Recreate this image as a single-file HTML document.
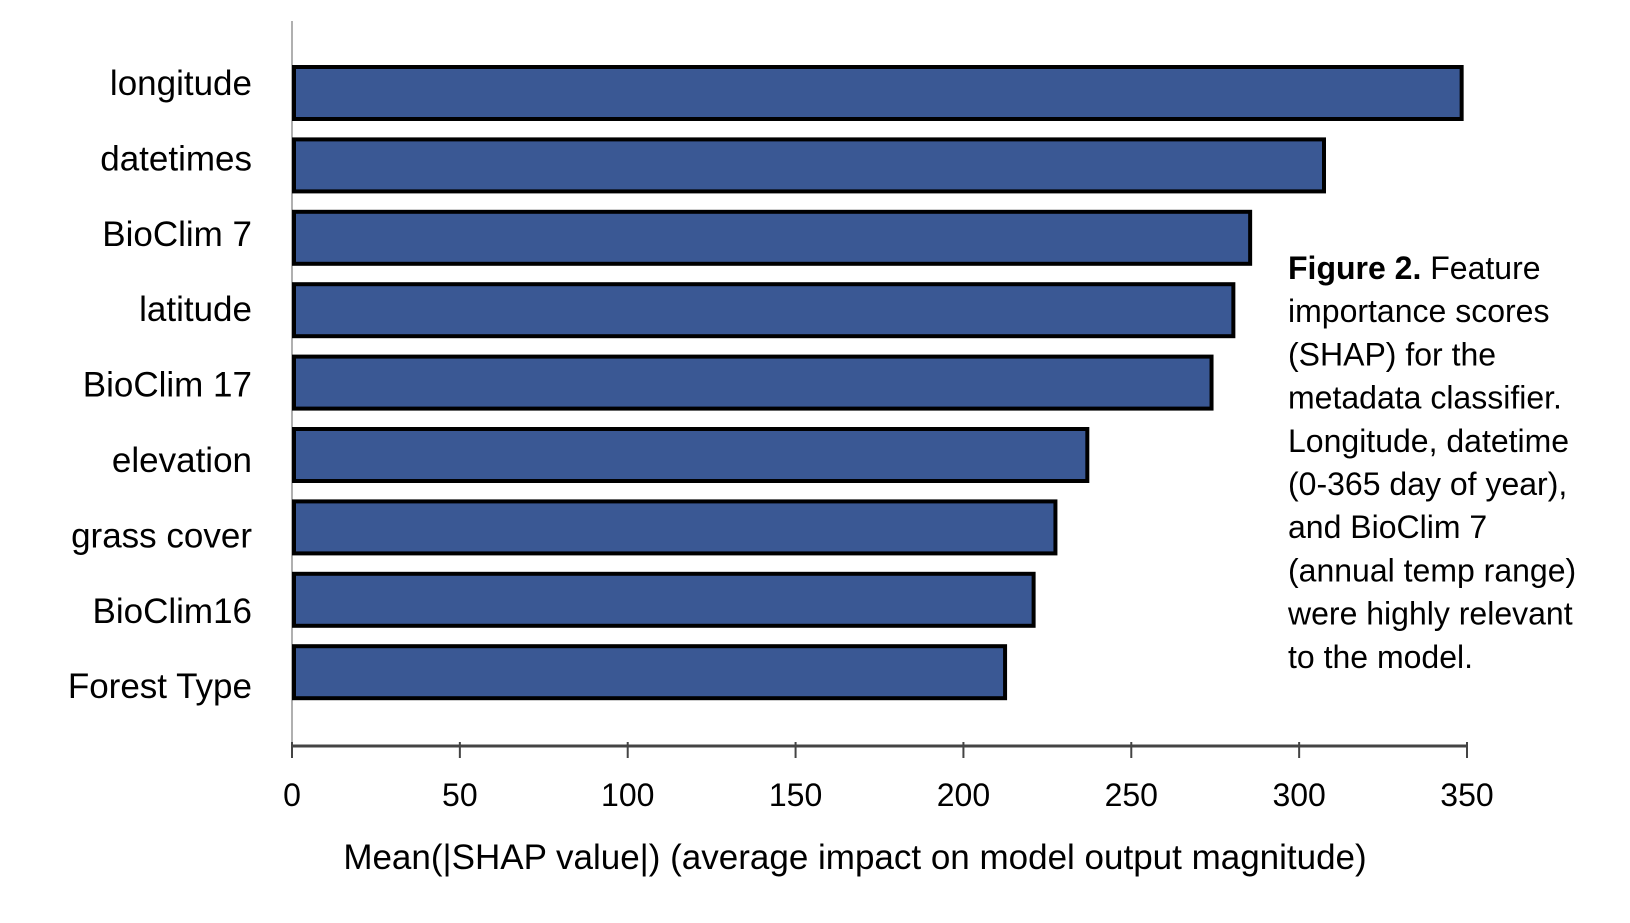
<!DOCTYPE html>
<html><head><meta charset="utf-8"><style>
body{margin:0;background:#fff;width:1630px;height:918px;overflow:hidden;font-family:"Liberation Sans",sans-serif}
svg text{font-family:"Liberation Sans",sans-serif;fill:#000}
</style></head><body>
<svg id="chart" width="1630" height="918" xmlns="http://www.w3.org/2000/svg"></svg>
<script>
const categories=["longitude","datetimes","BioClim 7","latitude","BioClim 17","elevation","grass cover","BioClim16","Forest Type"];
const values=[349,308,286,281,274.5,237.5,228,221.5,213];
const ticks=[0,50,100,150,200,250,300,350];
const captionLines=["importance scores","(SHAP) for the","metadata classifier.","Longitude, datetime","(0-365 day of year),","and BioClim 7","(annual temp range)","were highly relevant","to the model."];
const NS="http://www.w3.org/2000/svg";
const svg=document.getElementById('chart');
const x0=292,x1=1467,axisY=746,top0=65,pitch=72.4,bh=56;
const xs=v=>x0+(v/350)*(x1-x0);
const ys=i=>top0+i*pitch;
const labelY=i=>83+i*75.4;
function mk(t,a){const e=document.createElementNS(NS,t);for(const k in a)e.setAttribute(k,a[k]);svg.appendChild(e);return e;}
let e=mk('line',{x1:x0,y1:21,x2:x0,y2:axisY,stroke:'#b0b0b0','stroke-width':2});


categories.forEach((c,i)=>{
  const r=mk('rect',{x:x0+2,y:ys(i)+2,width:xs(values[i])-x0-4,height:bh-4,fill:'#3a5894',stroke:'#000','stroke-width':4});
  
  
  const t=mk('text',{x:252,y:labelY(i)+12,'text-anchor':'end','font-size':35});
  t.textContent=c;
  
  
});
e=mk('line',{x1:x0,y1:axisY,x2:x1,y2:axisY,stroke:'#444','stroke-width':3});


ticks.forEach(v=>{
  const l=mk('line',{x1:xs(v),y1:axisY-4,x2:xs(v),y2:axisY+12,stroke:'#444','stroke-width':2});
  
  
  const t=mk('text',{x:xs(v),y:806,'text-anchor':'middle','font-size':32});
  t.textContent=v;
  
  
});
e=mk('text',{x:855,y:869,'text-anchor':'middle','font-size':35});
e.textContent="Mean(|SHAP value|) (average impact on model output magnitude)";


const cap=mk('text',{x:1288,y:279,'font-size':32});


cap.innerHTML='<tspan font-weight="bold">Figure 2.</tspan> Feature';
captionLines.forEach((s,i)=>{
  const t=mk('text',{x:1288,y:279+(i+1)*43.2,'font-size':32});
  t.textContent=s;
  
  
});
</script>
</body></html>
